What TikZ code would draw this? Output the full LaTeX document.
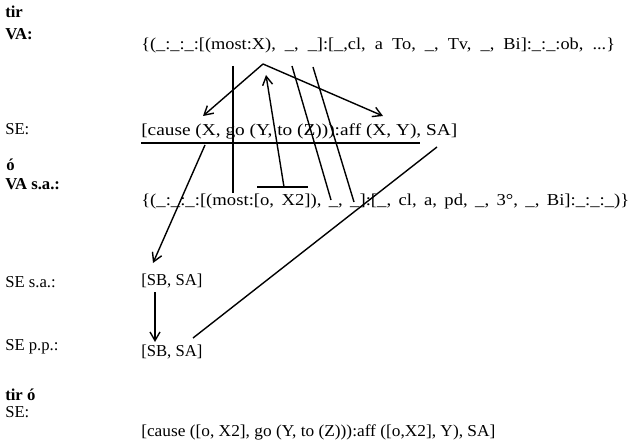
\documentclass[tikz,border=0pt]{standalone}
\usepackage{fontspec}
\setmainfont{Liberation Serif}
\usetikzlibrary{arrows.meta}
\newcommand{\wide}[3]{\scalebox{#1}[1]{\spaceskip=#2\relax #3}}
\begin{document}
\begin{tikzpicture}[x=0.75pt,y=-0.75pt,
  lbl/.style={anchor=west,inner sep=0pt,font=\fontsize{12.5}{14}\selectfont},
  blbl/.style={anchor=west,inner sep=0pt,font=\fontsize{12.5}{14}\selectfont\bfseries},
  expr/.style={anchor=west,inner sep=0pt,font=\fontsize{12.5}{15}\selectfont},
  link/.style={line width=1.05pt},
  arr/.style={link,-{Straight Barb[length=6.5pt,width=7.5pt]}}]
\useasboundingbox (0,0) rectangle (639,442);
% left labels
\node[blbl] (tir) at (5,12) {tir};
\node[blbl] (va) at (5,34) {VA:};
\node[lbl] (se) at (5,129) {SE:};
\node[blbl] (o) at (6,165) {ó};
\node[blbl] (vasa) at (5,184) {VA s.a.:};
\node[lbl] (sesa) at (5,282) {SE s.a.:};
\node[lbl] (sepp) at (5,347) {SE p.p.:};
\node[blbl] (tiro) at (5,395) {tir ó};
\node[lbl] (se2) at (5,412) {SE:};
% expressions
\node[expr] (vaexp) at (141,45) {\wide{1.1}{6.2pt}{\{(\_:\_:\_:[(most:X), \_, \_]:[\_,cl, a To, \_, Tv, \_, Bi]:\_:\_:ob, ...\}}};
\node[expr] (seexp) at (141,131) {\wide{1.16}{3.125pt}{[cause (X, go (Y, to (Z))):aff (X, Y), SA]}};
\node[expr] (vasaexp) at (141,201) {\wide{1.12}{4.95pt}{\{(\_:\_:\_:[(most:[o, X2]), \_, \_]:[\_, cl, a, pd, \_, 3°, \_, Bi]:\_:\_:\_)\}}};
\node[expr] (sb1) at (141,281) {[SB, SA]};
\node[expr] (sb2) at (141,352) {[SB, SA]};
\node[expr] (final) at (141,432) {\wide{1.04}{3.125pt}{[cause ([o, X2], go (Y, to (Z))):aff ([o,X2], Y), SA]}};
% coordinates
\coordinate (apex) at (263,64);
\coordinate (seX) at (203,116);
\coordinate (seXY) at (383,116);
\coordinate (v1a) at (233,66);
\coordinate (v1b) at (233,193);
\coordinate (tbL) at (257,187);
\coordinate (tbR) at (308,187);
\coordinate (tbM) at (284,187);
\coordinate (upTip) at (266,75);
\coordinate (s1a) at (292,66);
\coordinate (s1b) at (331,200);
\coordinate (s2a) at (313,67);
\coordinate (s2b) at (354,202);
\coordinate (ulL) at (141,143);
\coordinate (ulR) at (420,143);
\coordinate (dA) at (205,145);
\coordinate (dTip) at (153,263);
\coordinate (vTop) at (155,292);
\coordinate (vTip) at (155,342);
\coordinate (saEnd) at (437,147);
\coordinate (ppEnd) at (193,338);
% connectors
\draw[arr] (apex) -- (seX);
\draw[arr] (apex) -- (seXY);
\draw[link] (v1a) -- (v1b);
\draw[link] (tbL) -- (tbR);
\draw[arr] (tbM) -- (upTip);
\draw[link] (s1a) -- (s1b);
\draw[link] (s2a) -- (s2b);
\draw[link] (ulL) -- (ulR);
\draw[arr] (dA) -- (dTip);
\draw[arr] (vTop) -- (vTip);
\draw[link] (saEnd) -- (ppEnd);
\end{tikzpicture}
\end{document}
